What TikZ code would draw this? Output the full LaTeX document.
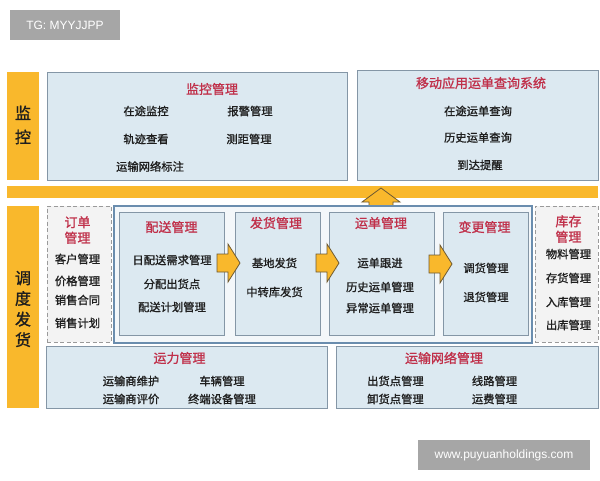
\documentclass[tikz,border=0pt]{standalone}
\usepackage{fontspec}
\setmainfont{Liberation Sans}
\newfontfamily\cjk[FakeBold=1.2]{Noto Sans CJK SC}
\usetikzlibrary{fit}
\definecolor{orangec}{HTML}{F9B82C}
\definecolor{boxfill}{HTML}{DCE9F1}
\definecolor{boxline}{HTML}{8496A6}
\definecolor{outerline}{HTML}{6A8DAE}
\definecolor{outerfill}{HTML}{F3F7FA}
\definecolor{dashfill}{HTML}{F3F3F3}
\definecolor{dashline}{HTML}{9A9A9A}
\definecolor{titlec}{HTML}{C0304A}
\definecolor{itemc}{HTML}{1E1E1E}
\definecolor{arrowline}{HTML}{6E5A32}
\definecolor{wmgrey}{HTML}{A6A6A6}
\tikzset{
  box/.style={draw=boxline, fill=boxfill, line width=0.9pt, inner sep=0pt},
  dbox/.style={draw=dashline, fill=dashfill, dash pattern=on 4pt off 2.5pt, line width=0.9pt, inner sep=0pt},
  outerbox/.style={draw=outerline, fill=outerfill, line width=1.2pt, inner sep=0pt},
  obar/.style={fill=orangec, draw=none, inner sep=0pt},
  ttl/.style={text=titlec, inner sep=0pt, align=center, font=\cjk\fontsize{13}{15.5}\selectfont},
  itm/.style={text=itemc, inner sep=0pt, font=\cjk\fontsize{11.3}{13}\selectfont},
  vlab/.style={text=itemc, inner sep=0pt, align=center},
  arr/.style={fill=orangec, draw=arrowline, line width=0.8pt, line join=miter},
  wm/.style={fill=wmgrey, text=white, inner sep=0pt, font=\fontsize{12}{14}\selectfont}
}
\begin{document}
\begin{tikzpicture}[x=1pt,y=-1pt]
\useasboundingbox[fill=white] (0,0) rectangle (600,480);

% watermarks
\node[wm, minimum width=110pt, minimum height=30pt] (wm1) at (65,25) {TG: MYYJJPP};
\node[wm, minimum width=172pt, minimum height=30pt] (wm2) at (504,455) {www.puyuanholdings.com};

% orange bars
\node[obar, fit={(7,72)(39,180)}] (barmon) {};
\node[obar, fit={(7,186)(598,198)}] (barmid) {};
\node[obar, fit={(7,206)(39,408)}] (bardis) {};
\node[vlab, font=\cjk\fontsize{16}{24}\selectfont] (lmon) at (23,125) {监\\控};
\node[vlab, font=\cjk\fontsize{16}{20.6}\selectfont] (ldis) at (23,309) {调\\度\\发\\货};

% monitoring
\node[box, fit={(47,72)(347,180)}] (mon) {};
\node[ttl] (mont) at (212,89) {监控管理};
\node[itm] (m1) at (146,111) {在途监控};
\node[itm] (m2) at (250,111) {报警管理};
\node[itm] (m3) at (146,139) {轨迹查看};
\node[itm] (m4) at (249,139) {测距管理};
\node[itm] (m5) at (150,166.5) {运输网络标注};

% mobile
\node[box, fit={(357,70)(598,180)}] (mob) {};
\node[ttl] (mobt) at (481,83) {移动应用运单查询系统};
\node[itm] (p1) at (478,111) {在途运单查询};
\node[itm] (p2) at (478,137.5) {历史运单查询};
\node[itm] (p3) at (480,165) {到达提醒};

% up arrow
\filldraw[arr] (369,206) -- (369,202) -- (362,202) -- (381,188) -- (400,202) -- (393,202) -- (393,206);

% order
\node[dbox, fit={(47,206)(111,342)}] (ord) {};
\node[ttl] (ordt) at (77.5,230) {订单\\管理};
\node[itm] (o1) at (77.5,259) {客户管理};
\node[itm] (o2) at (77.5,281) {价格管理};
\node[itm] (o3) at (77.5,300) {销售合同};
\node[itm] (o4) at (77.5,323) {销售计划};

% dispatch container
\node[outerbox, fit={(114,206)(532,343)}] (disp) {};
\node[box, fit={(119,212)(224,335)}] (b1) {};
\node[box, fit={(235,212)(320,335)}] (b2) {};
\node[box, fit={(329,212)(434,335)}] (b3) {};
\node[box, fit={(443,212)(528,335)}] (b4) {};

\node[ttl] (b1t) at (171.5,227) {配送管理};
\node[itm] (b1a) at (172,260) {日配送需求管理};
\node[itm] (b1b) at (172,284) {分配出货点};
\node[itm] (b1c) at (172,307) {配送计划管理};

\node[ttl] (b2t) at (276,223) {发货管理};
\node[itm] (b2a) at (274.5,263) {基地发货};
\node[itm] (b2b) at (274.5,292) {中转库发货};

\node[ttl] (b3t) at (381,223) {运单管理};
\node[itm] (b3a) at (380,263) {运单跟进};
\node[itm] (b3b) at (380,287) {历史运单管理};
\node[itm] (b3c) at (380,308) {异常运单管理};

\node[ttl] (b4t) at (484.5,227) {变更管理};
\node[itm] (b4a) at (486,268) {调货管理};
\node[itm] (b4b) at (486,297) {退货管理};

% right arrows
\filldraw[arr] (217,254) -- (228,254) -- (228,244) -- (240,263) -- (228,282) -- (228,272) -- (217,272) -- cycle;
\filldraw[arr] (316,254) -- (327,254) -- (327,244) -- (339,263) -- (327,282) -- (327,272) -- (316,272) -- cycle;
\filldraw[arr] (429,255) -- (440,255) -- (440,245) -- (452,264) -- (440,283) -- (440,273) -- (429,273) -- cycle;

% inventory
\node[dbox, fit={(535,206)(598,342)}] (inv) {};
\node[ttl] (invt) at (568.5,229) {库存\\管理};
\node[itm] (i1) at (568.5,254) {物料管理};
\node[itm] (i2) at (568.5,278) {存货管理};
\node[itm] (i3) at (568.5,302) {入库管理};
\node[itm] (i4) at (568.5,325) {出库管理};

% capacity
\node[box, fit={(46,346)(327,408)}] (cap) {};
\node[ttl] (capt) at (179.5,358) {运力管理};
\node[itm] (c1) at (131,381) {运输商维护};
\node[itm] (c2) at (222,381) {车辆管理};
\node[itm] (c3) at (131,399) {运输商评价};
\node[itm] (c4) at (222,399) {终端设备管理};

% network
\node[box, fit={(336,346)(598,408)}] (net) {};
\node[ttl] (nett) at (444,358) {运输网络管理};
\node[itm] (n1) at (395.5,381) {出货点管理};
\node[itm] (n2) at (494.5,381) {线路管理};
\node[itm] (n3) at (395.5,399) {卸货点管理};
\node[itm] (n4) at (494.5,399) {运费管理};
\end{tikzpicture}
\end{document}
